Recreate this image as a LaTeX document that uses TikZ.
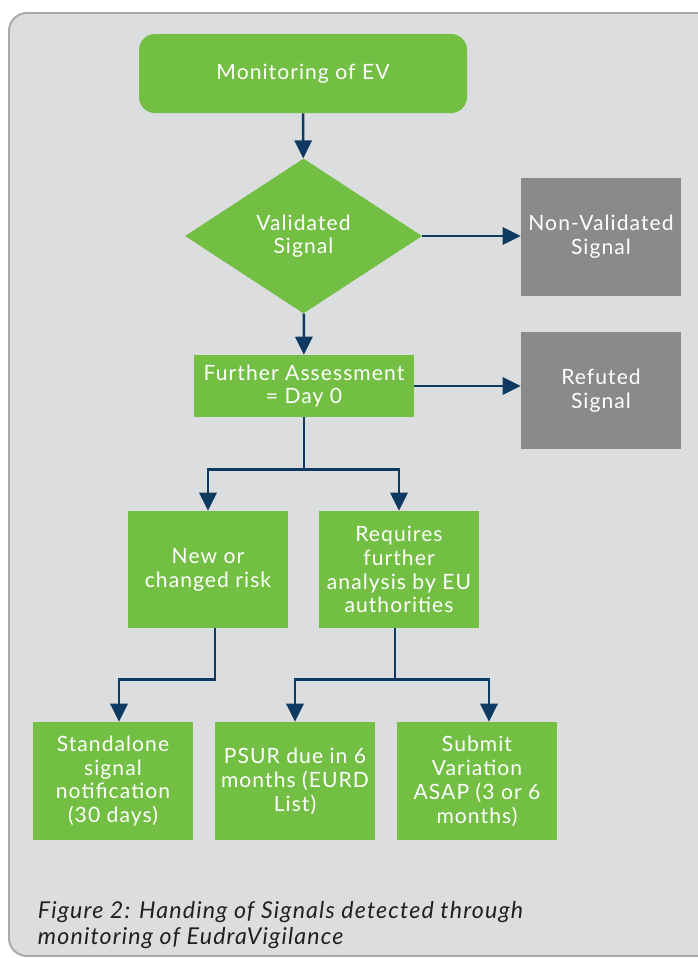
\documentclass[tikz,border=0pt]{standalone}
\usepackage{fontspec}
\setmainfont{Lato}[LetterSpace=5]
\usetikzlibrary{arrows.meta,positioning,shapes.geometric,calc}
\definecolor{evgreen}{HTML}{72BF44}
\definecolor{evgrey}{HTML}{898A89}
\definecolor{evnavy}{HTML}{0E3A61}
\definecolor{panelbg}{HTML}{DCDDDF}
\definecolor{panelrim}{HTML}{A7A8AB}
\definecolor{captxt}{HTML}{231F20}
\tikzset{
  stepbox/.style={rectangle,fill=evgreen,text=white,align=center,inner sep=1mm,font=\fontsize{15}{17}\selectfont},
  smallbox/.style={stepbox,minimum width=4cm,minimum height=2.95cm},
  greybox/.style={smallbox,fill=evgrey},
  startbox/.style={stepbox,rounded corners=4mm,minimum width=8.2cm,minimum height=1.975cm},
  decnode/.style={diamond,fill=evgreen,text=white,align=center,inner sep=0pt,aspect=1.53,minimum width=5.925cm,minimum height=3.875cm,font=\fontsize{15}{16.5}\selectfont},
  flowarrow/.style={-{Triangle[length=4.5mm,width=4.3mm]},line width=1.8pt,evnavy},
}

\begin{document}
\begin{tikzpicture}
  \useasboundingbox (0,0) rectangle (17.425,-23.95);
  \draw[fill=panelbg,draw=panelrim,line width=1.4pt,rounded corners=4.5mm] (0.225,-0.325) rectangle (18.5,-23.9);
  \node[startbox] (mon) at (7.575,-1.8375) {Monitoring of EV};
  \node[decnode] (val) at (7.5875,-5.9) {Validated\\Signal};
  \node[greybox] (nonval) at (15.025,-5.925) {Non-Validated\\Signal};
  \node[stepbox,minimum width=5.5cm,minimum height=1.55cm] (further) at (7.6,-9.65) {Further Assessment\\= Day 0};
  \node[greybox,minimum height=2.925cm] (refuted) at (15.025,-9.7625) {Refuted\\Signal};
  \node[smallbox,minimum height=2.925cm] (ncr) at (5.2,-14.2375) {New or\\changed risk};
  \node[smallbox,minimum height=2.925cm] (rfa) at (9.975,-14.2375) {Requires\\further\\analysis by EU\\authorities};
  \node[smallbox] (std) at (2.825,-19.525) {Standalone\\signal\\notification\\(30 days)};
  \node[smallbox] (psur) at (7.375,-19.525) {PSUR due in 6\\months (EURD\\List)};
  \node[smallbox] (sub) at (11.925,-19.525) {Submit\\Variation\\ASAP (3 or 6\\months)};
  \draw[flowarrow] (mon) -- (val);
  \draw[flowarrow] (val.east) -- (val.east -| nonval.west);
  \draw[flowarrow] (val) -- (further);
  \draw[flowarrow] (further.east) -- (further.east -| refuted.west);
  \draw[flowarrow] (further.south) -- ++(0,-1.3) -| (ncr.north);
  \draw[flowarrow] (further.south) -- ++(0,-1.3) -| (rfa.north);
  \draw[flowarrow] ([xshift=1.75mm]ncr.south) -- ++(0,-1.275) -| ([xshift=1.5mm]std.north);
  \draw[flowarrow] ([xshift=-1mm]rfa.south) -- ++(0,-1.275) -| (psur.north);
  \draw[flowarrow] ([xshift=-1mm]rfa.south) -- ++(0,-1.275) -| ([xshift=3mm]sub.north);
  \node[anchor=base west,align=left,text=captxt,font=\itshape\fontsize{16.5}{18.4}\selectfont] (cap) at (0.825,-23.6) {Figure 2: Handing of Signals detected through\\monitoring of EudraVigilance};
\end{tikzpicture}
\end{document}
